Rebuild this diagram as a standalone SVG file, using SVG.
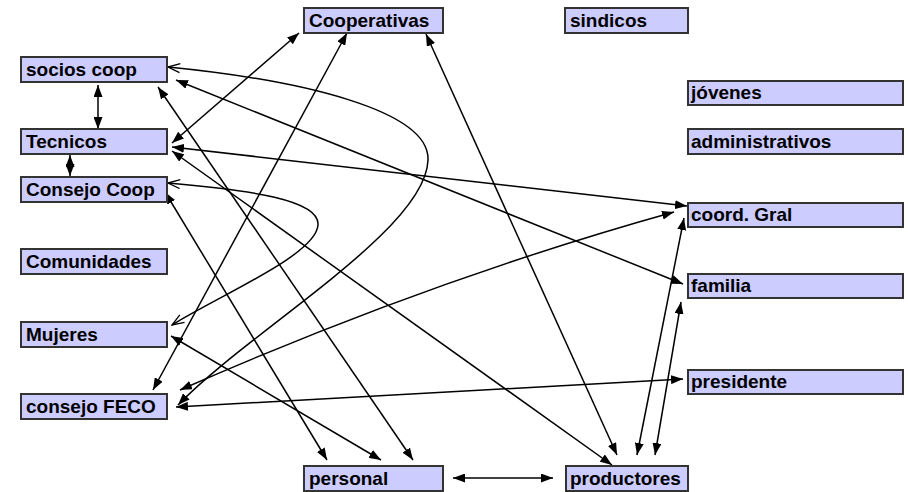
<svg xmlns="http://www.w3.org/2000/svg" width="908" height="492" viewBox="0 0 908 492">
<style>
.box{fill:#ccccff;stroke:#333;stroke-width:2}
.lbl{font-family:"Liberation Sans",Arial,sans-serif;font-weight:bold;font-size:19px;fill:#000}
.c{fill:none;stroke:#000;stroke-width:1.5}
.d{marker-start:url(#fa);marker-end:url(#fa)}
</style>
<defs>
<marker id="fa" viewBox="0 0 12 9" refX="12" refY="4.5" markerWidth="12" markerHeight="9" markerUnits="userSpaceOnUse" orient="auto-start-reverse"><path d="M0,0 L12,4.5 L0,9 z" fill="#000"/></marker>
<marker id="oa" viewBox="-1 -1 14 11" refX="12" refY="4.5" markerWidth="14" markerHeight="11" markerUnits="userSpaceOnUse" orient="auto-start-reverse"><path d="M0,0 L12,4.5 L0,9" fill="none" stroke="#000" stroke-width="1.3"/></marker>
</defs>
<rect width="908" height="492" fill="#fff"/>
<g id="connectors">
<line class="c d" x1="98" y1="85" x2="98" y2="129"/>
<line class="c d" x1="70" y1="155" x2="70" y2="176"/>
<line class="c d" x1="172" y1="143" x2="299" y2="33"/>
<line class="c d" x1="347" y1="33" x2="153" y2="390"/>
<line class="c d" x1="426" y1="34" x2="617" y2="455"/>
<line class="c d" x1="172" y1="151" x2="612" y2="465"/>
<line class="c d" x1="172" y1="147" x2="687" y2="206"/>
<path class="c d" d="M674,212 Q430,280 180,390"/>
<line class="c d" x1="176" y1="80" x2="683" y2="284"/>
<line class="c d" x1="158" y1="87" x2="413" y2="460"/>
<line class="c d" x1="165" y1="192" x2="327" y2="460"/>
<line class="c d" x1="171" y1="336" x2="381" y2="460"/>
<line class="c d" x1="453" y1="478" x2="553" y2="478"/>
<line class="c d" x1="684" y1="218" x2="637" y2="455"/>
<line class="c d" x1="681" y1="302" x2="655" y2="455"/>
<line class="c d" x1="683" y1="379" x2="176" y2="407"/>
<path class="c" marker-start="url(#oa)" marker-end="url(#fa)" d="M168,67 C300,80 430,110 428,160 C426,230 250,330 178,405"/>
<path class="c" marker-start="url(#oa)" marker-end="url(#oa)" d="M168,183 C250,190 320,200 318,225 C316,255 220,295 172,325"/>
</g>
<g id="n-cooperativas"><rect class="box" x="304" y="8" width="139" height="25"/><text class="lbl" x="309" y="27">Cooperativas</text></g>
<g id="n-sindicos"><rect class="box" x="565" y="8" width="123" height="25"/><text class="lbl" x="570" y="27">sindicos</text></g>
<g id="n-socios"><rect class="box" x="21" y="57" width="146" height="25"/><text class="lbl" x="26" y="76">socios coop</text></g>
<g id="n-tecnicos"><rect class="box" x="21" y="129" width="146" height="25"/><text class="lbl" x="26" y="148">Tecnicos</text></g>
<g id="n-consejocoop"><rect class="box" x="21" y="177" width="146" height="25"/><text class="lbl" x="26" y="196">Consejo Coop</text></g>
<g id="n-comunidades"><rect class="box" x="21" y="249" width="146" height="25"/><text class="lbl" x="26" y="268">Comunidades</text></g>
<g id="n-mujeres"><rect class="box" x="21" y="322" width="146" height="25"/><text class="lbl" x="26" y="341">Mujeres</text></g>
<g id="n-consejofeco"><rect class="box" x="21" y="394" width="146" height="25"/><text class="lbl" x="26" y="413">consejo FECO</text></g>
<g id="n-personal"><rect class="box" x="304" y="466" width="139" height="25"/><text class="lbl" x="309" y="485">personal</text></g>
<g id="n-productores"><rect class="box" x="566" y="466" width="122" height="25"/><text class="lbl" x="570" y="485">productores</text></g>
<g id="n-jovenes"><rect class="box" x="688" y="81" width="215" height="24"/><text class="lbl" x="691" y="99">jóvenes</text></g>
<g id="n-administrativos"><rect class="box" x="688" y="129" width="215" height="25"/><text class="lbl" x="691" y="148">administrativos</text></g>
<g id="n-coord"><rect class="box" x="688" y="203" width="215" height="24"/><text class="lbl" x="691" y="221">coord. Gral</text></g>
<g id="n-familia"><rect class="box" x="688" y="274" width="215" height="24"/><text class="lbl" x="691" y="292">familia</text></g>
<g id="n-presidente"><rect class="box" x="688" y="370" width="215" height="24"/><text class="lbl" x="691" y="388">presidente</text></g>
</svg>
